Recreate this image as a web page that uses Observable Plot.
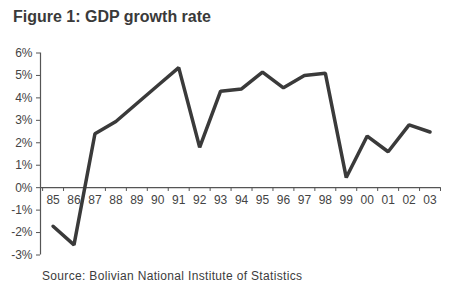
<!DOCTYPE html>
<html><head><meta charset="utf-8">
<script src="https://cdn.jsdelivr.net/npm/d3@7"></script>
<script src="https://cdn.jsdelivr.net/npm/@observablehq/plot@0.6"></script>
<style>
body{margin:0;background:#fff;width:455px;height:292px;overflow:hidden;font-family:"Liberation Sans",Arial,sans-serif;color:#3c3c3c}
#title{height:34px;box-sizing:border-box;padding:7px 0 0 13px;font:bold 16px/20px "Liberation Sans",Arial,sans-serif;color:#3a3a3a}
#caption{padding:3px 0 0 42px;font:12px/14px "Liberation Sans",Arial,sans-serif;letter-spacing:0.33px;color:#3c3c3c}
</style></head>
<body>
<div id="title">Figure 1: GDP growth rate</div>
<div id="chart"></div>
<div id="caption">Source: Bolivian National Institute of Statistics</div>
<script>
const years = ["85","86","87","88","89","90","91","92","93","94","95","96","97","98","99","00","01","02","03"];
const growth = [-1.72,-2.55,2.4,2.95,3.75,4.55,5.35,1.8,4.3,4.4,5.15,4.45,5.0,5.1,0.45,2.3,1.6,2.8,2.48];
const yTicks = [-3,-2,-1,0,1,2,3,4,5,6];

const data = years.map((y,i)=>({i, year:y, value:growth[i]}));
const bounds = d3.range(-0.5, years.length, 1);

const plot = Plot.plot({
  width:455, height:232,
  marginLeft:40, marginRight:15, marginTop:18.5, marginBottom:11.5,
  style:{fontFamily:"'Liberation Sans', Arial, sans-serif", fontSize:"12px", color:"#444", background:"#fff"},
  x:{domain:[-0.6, years.length-0.5], axis:null},
  y:{domain:[-3,6]},
  marks:[
    Plot.axisY({ticks:yTicks, tickSize:4, tickPadding:4, tickFormat:d=>d+"%", label:null, fontSize:12, stroke:"#555"}),
    Plot.ruleX([-0.6], {stroke:"#555", strokeWidth:1.2}),
    Plot.ruleY([0], {stroke:"#555", strokeWidth:1.3}),
    Plot.ruleX(bounds, {x:d=>d, y1:0, y2:-0.17, stroke:"#555", strokeWidth:1}),
    Plot.text(data, {x:"i", y:0, dy:12, text:"year", fill:"#444", fontSize:12}),
    Plot.line(data, {x:"i", y:"value", stroke:"#3a3a3a", strokeWidth:3.5, strokeLinejoin:"miter"})
  ]
});
document.getElementById("chart").append(plot);
</script>
</body></html>
